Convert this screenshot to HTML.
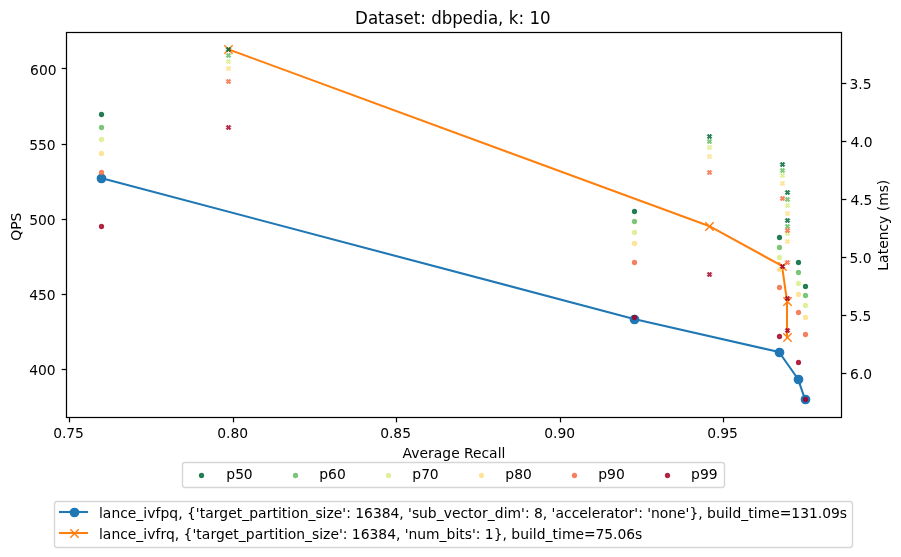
<!DOCTYPE html>
<html lang="en"><head><meta charset="utf-8"><title>Dataset: dbpedia, k: 10</title>
<style>html,body{margin:0;padding:0;background:#fff}body{width:901px;height:557px;overflow:hidden}svg text{white-space:pre}</style>
</head><body>
<svg width="901" height="557" viewBox="0 0 901 557" style="display:block">
<rect x="0" y="0" width="901" height="557" fill="#ffffff"/>
<g stroke="#000" stroke-width="1.220" fill="none">
<path d="M69.5 417.5V422.36"/>
<path d="M233.5 417.5V422.36"/>
<path d="M396.5 417.5V422.36"/>
<path d="M560.5 417.5V422.36"/>
<path d="M723.5 417.5V422.36"/>
<path d="M66.5 68.5H61.64"/>
<path d="M66.5 144.5H61.64"/>
<path d="M66.5 219.5H61.64"/>
<path d="M66.5 294.5H61.64"/>
<path d="M66.5 369.5H61.64"/>
<path d="M841.5 83.5H846.36"/>
<path d="M841.5 141.5H846.36"/>
<path d="M841.5 199.5H846.36"/>
<path d="M841.5 257.5H846.36"/>
<path d="M841.5 315.5H846.36"/>
<path d="M841.5 373.5H846.36"/>
</g>
<path d="M101.00 178.00 L634.00 319.00 L779.00 352.00 L798.00 379.00 L805.00 399.30" fill="none" stroke="#1f77b4" stroke-width="2.083" stroke-linejoin="round" stroke-linecap="square"/>
<circle cx="101.50" cy="178.50" r="4.167" fill="#1f77b4" stroke="#1f77b4" stroke-width="1.389"/>
<circle cx="634.50" cy="319.50" r="4.167" fill="#1f77b4" stroke="#1f77b4" stroke-width="1.389"/>
<circle cx="779.50" cy="352.50" r="4.167" fill="#1f77b4" stroke="#1f77b4" stroke-width="1.389"/>
<circle cx="798.50" cy="379.50" r="4.167" fill="#1f77b4" stroke="#1f77b4" stroke-width="1.389"/>
<circle cx="805.50" cy="399.50" r="4.167" fill="#1f77b4" stroke="#1f77b4" stroke-width="1.389"/>
<path d="M228.00 49.20 L709.00 225.90 L782.00 265.90 L787.00 300.90 L787.00 336.90" fill="none" stroke="#ff7f0e" stroke-width="2.083" stroke-linejoin="round" stroke-linecap="square"/>
<path d="M224.33 45.33L232.67 53.67M224.33 53.67L232.67 45.33" fill="none" stroke="#ff7f0e" stroke-width="1.389"/>
<path d="M705.33 222.33L713.67 230.67M705.33 230.67L713.67 222.33" fill="none" stroke="#ff7f0e" stroke-width="1.389"/>
<path d="M778.33 262.33L786.67 270.67M778.33 270.67L786.67 262.33" fill="none" stroke="#ff7f0e" stroke-width="1.389"/>
<path d="M783.33 297.33L791.67 305.67M783.33 305.67L791.67 297.33" fill="none" stroke="#ff7f0e" stroke-width="1.389"/>
<path d="M783.33 333.33L791.67 341.67M783.33 341.67L791.67 333.33" fill="none" stroke="#ff7f0e" stroke-width="1.389"/>
<rect x="66.5" y="32.5" width="775.0" height="385.0" fill="none" stroke="#000" stroke-width="1.220"/>
<circle cx="101.50" cy="114.50" r="1.964" fill="#006837" stroke="#006837" stroke-width="1.389" fill-opacity="0.8" stroke-opacity="0.8"/>
<circle cx="634.50" cy="211.50" r="1.964" fill="#006837" stroke="#006837" stroke-width="1.389" fill-opacity="0.8" stroke-opacity="0.8"/>
<circle cx="779.50" cy="237.50" r="1.964" fill="#006837" stroke="#006837" stroke-width="1.389" fill-opacity="0.8" stroke-opacity="0.8"/>
<circle cx="798.50" cy="262.50" r="1.964" fill="#006837" stroke="#006837" stroke-width="1.389" fill-opacity="0.8" stroke-opacity="0.8"/>
<circle cx="805.50" cy="286.50" r="1.964" fill="#006837" stroke="#006837" stroke-width="1.389" fill-opacity="0.8" stroke-opacity="0.8"/>
<path d="M227.35 47.20 L228.50 48.35 L229.65 47.20 L230.80 48.35 L229.65 49.50 L230.80 50.65 L229.65 51.80 L228.50 50.65 L227.35 51.80 L226.20 50.65 L227.35 49.50 L226.20 48.35Z" fill="#006837" stroke="#006837" stroke-width="0.9" stroke-linejoin="miter" fill-opacity="0.8" stroke-opacity="0.8"/>
<path d="M708.35 134.20 L709.50 135.35 L710.65 134.20 L711.80 135.35 L710.65 136.50 L711.80 137.65 L710.65 138.80 L709.50 137.65 L708.35 138.80 L707.20 137.65 L708.35 136.50 L707.20 135.35Z" fill="#006837" stroke="#006837" stroke-width="0.9" stroke-linejoin="miter" fill-opacity="0.8" stroke-opacity="0.8"/>
<path d="M781.35 162.20 L782.50 163.35 L783.65 162.20 L784.80 163.35 L783.65 164.50 L784.80 165.65 L783.65 166.80 L782.50 165.65 L781.35 166.80 L780.20 165.65 L781.35 164.50 L780.20 163.35Z" fill="#006837" stroke="#006837" stroke-width="0.9" stroke-linejoin="miter" fill-opacity="0.8" stroke-opacity="0.8"/>
<path d="M786.35 190.20 L787.50 191.35 L788.65 190.20 L789.80 191.35 L788.65 192.50 L789.80 193.65 L788.65 194.80 L787.50 193.65 L786.35 194.80 L785.20 193.65 L786.35 192.50 L785.20 191.35Z" fill="#006837" stroke="#006837" stroke-width="0.9" stroke-linejoin="miter" fill-opacity="0.8" stroke-opacity="0.8"/>
<path d="M786.35 218.20 L787.50 219.35 L788.65 218.20 L789.80 219.35 L788.65 220.50 L789.80 221.65 L788.65 222.80 L787.50 221.65 L786.35 222.80 L785.20 221.65 L786.35 220.50 L785.20 219.35Z" fill="#006837" stroke="#006837" stroke-width="0.9" stroke-linejoin="miter" fill-opacity="0.8" stroke-opacity="0.8"/>
<circle cx="101.50" cy="127.50" r="1.964" fill="#66bd63" stroke="#66bd63" stroke-width="1.389" fill-opacity="0.8" stroke-opacity="0.8"/>
<circle cx="634.50" cy="221.50" r="1.964" fill="#66bd63" stroke="#66bd63" stroke-width="1.389" fill-opacity="0.8" stroke-opacity="0.8"/>
<circle cx="779.50" cy="247.50" r="1.964" fill="#66bd63" stroke="#66bd63" stroke-width="1.389" fill-opacity="0.8" stroke-opacity="0.8"/>
<circle cx="798.50" cy="272.50" r="1.964" fill="#66bd63" stroke="#66bd63" stroke-width="1.389" fill-opacity="0.8" stroke-opacity="0.8"/>
<circle cx="805.50" cy="295.50" r="1.964" fill="#66bd63" stroke="#66bd63" stroke-width="1.389" fill-opacity="0.8" stroke-opacity="0.8"/>
<path d="M227.35 53.20 L228.50 54.35 L229.65 53.20 L230.80 54.35 L229.65 55.50 L230.80 56.65 L229.65 57.80 L228.50 56.65 L227.35 57.80 L226.20 56.65 L227.35 55.50 L226.20 54.35Z" fill="#66bd63" stroke="#66bd63" stroke-width="0.9" stroke-linejoin="miter" fill-opacity="0.8" stroke-opacity="0.8"/>
<path d="M708.35 139.20 L709.50 140.35 L710.65 139.20 L711.80 140.35 L710.65 141.50 L711.80 142.65 L710.65 143.80 L709.50 142.65 L708.35 143.80 L707.20 142.65 L708.35 141.50 L707.20 140.35Z" fill="#66bd63" stroke="#66bd63" stroke-width="0.9" stroke-linejoin="miter" fill-opacity="0.8" stroke-opacity="0.8"/>
<path d="M781.35 168.20 L782.50 169.35 L783.65 168.20 L784.80 169.35 L783.65 170.50 L784.80 171.65 L783.65 172.80 L782.50 171.65 L781.35 172.80 L780.20 171.65 L781.35 170.50 L780.20 169.35Z" fill="#66bd63" stroke="#66bd63" stroke-width="0.9" stroke-linejoin="miter" fill-opacity="0.8" stroke-opacity="0.8"/>
<path d="M786.35 197.20 L787.50 198.35 L788.65 197.20 L789.80 198.35 L788.65 199.50 L789.80 200.65 L788.65 201.80 L787.50 200.65 L786.35 201.80 L785.20 200.65 L786.35 199.50 L785.20 198.35Z" fill="#66bd63" stroke="#66bd63" stroke-width="0.9" stroke-linejoin="miter" fill-opacity="0.8" stroke-opacity="0.8"/>
<path d="M786.35 224.20 L787.50 225.35 L788.65 224.20 L789.80 225.35 L788.65 226.50 L789.80 227.65 L788.65 228.80 L787.50 227.65 L786.35 228.80 L785.20 227.65 L786.35 226.50 L785.20 225.35Z" fill="#66bd63" stroke="#66bd63" stroke-width="0.9" stroke-linejoin="miter" fill-opacity="0.8" stroke-opacity="0.8"/>
<circle cx="101.50" cy="139.50" r="1.964" fill="#d9ef8b" stroke="#d9ef8b" stroke-width="1.389" fill-opacity="0.8" stroke-opacity="0.8"/>
<circle cx="634.50" cy="232.50" r="1.964" fill="#d9ef8b" stroke="#d9ef8b" stroke-width="1.389" fill-opacity="0.8" stroke-opacity="0.8"/>
<circle cx="779.50" cy="257.50" r="1.964" fill="#d9ef8b" stroke="#d9ef8b" stroke-width="1.389" fill-opacity="0.8" stroke-opacity="0.8"/>
<circle cx="798.50" cy="283.50" r="1.964" fill="#d9ef8b" stroke="#d9ef8b" stroke-width="1.389" fill-opacity="0.8" stroke-opacity="0.8"/>
<circle cx="805.50" cy="305.50" r="1.964" fill="#d9ef8b" stroke="#d9ef8b" stroke-width="1.389" fill-opacity="0.8" stroke-opacity="0.8"/>
<path d="M227.35 59.20 L228.50 60.35 L229.65 59.20 L230.80 60.35 L229.65 61.50 L230.80 62.65 L229.65 63.80 L228.50 62.65 L227.35 63.80 L226.20 62.65 L227.35 61.50 L226.20 60.35Z" fill="#d9ef8b" stroke="#d9ef8b" stroke-width="0.9" stroke-linejoin="miter" fill-opacity="0.8" stroke-opacity="0.8"/>
<path d="M708.35 145.20 L709.50 146.35 L710.65 145.20 L711.80 146.35 L710.65 147.50 L711.80 148.65 L710.65 149.80 L709.50 148.65 L708.35 149.80 L707.20 148.65 L708.35 147.50 L707.20 146.35Z" fill="#d9ef8b" stroke="#d9ef8b" stroke-width="0.9" stroke-linejoin="miter" fill-opacity="0.8" stroke-opacity="0.8"/>
<path d="M781.35 173.20 L782.50 174.35 L783.65 173.20 L784.80 174.35 L783.65 175.50 L784.80 176.65 L783.65 177.80 L782.50 176.65 L781.35 177.80 L780.20 176.65 L781.35 175.50 L780.20 174.35Z" fill="#d9ef8b" stroke="#d9ef8b" stroke-width="0.9" stroke-linejoin="miter" fill-opacity="0.8" stroke-opacity="0.8"/>
<path d="M786.35 203.20 L787.50 204.35 L788.65 203.20 L789.80 204.35 L788.65 205.50 L789.80 206.65 L788.65 207.80 L787.50 206.65 L786.35 207.80 L785.20 206.65 L786.35 205.50 L785.20 204.35Z" fill="#d9ef8b" stroke="#d9ef8b" stroke-width="0.9" stroke-linejoin="miter" fill-opacity="0.8" stroke-opacity="0.8"/>
<path d="M786.35 231.20 L787.50 232.35 L788.65 231.20 L789.80 232.35 L788.65 233.50 L789.80 234.65 L788.65 235.80 L787.50 234.65 L786.35 235.80 L785.20 234.65 L786.35 233.50 L785.20 232.35Z" fill="#d9ef8b" stroke="#d9ef8b" stroke-width="0.9" stroke-linejoin="miter" fill-opacity="0.8" stroke-opacity="0.8"/>
<circle cx="101.50" cy="153.50" r="1.964" fill="#fee08b" stroke="#fee08b" stroke-width="1.389" fill-opacity="0.8" stroke-opacity="0.8"/>
<circle cx="634.50" cy="243.50" r="1.964" fill="#fee08b" stroke="#fee08b" stroke-width="1.389" fill-opacity="0.8" stroke-opacity="0.8"/>
<circle cx="779.50" cy="269.50" r="1.964" fill="#fee08b" stroke="#fee08b" stroke-width="1.389" fill-opacity="0.8" stroke-opacity="0.8"/>
<circle cx="798.50" cy="294.50" r="1.964" fill="#fee08b" stroke="#fee08b" stroke-width="1.389" fill-opacity="0.8" stroke-opacity="0.8"/>
<circle cx="805.50" cy="317.50" r="1.964" fill="#fee08b" stroke="#fee08b" stroke-width="1.389" fill-opacity="0.8" stroke-opacity="0.8"/>
<path d="M227.35 66.20 L228.50 67.35 L229.65 66.20 L230.80 67.35 L229.65 68.50 L230.80 69.65 L229.65 70.80 L228.50 69.65 L227.35 70.80 L226.20 69.65 L227.35 68.50 L226.20 67.35Z" fill="#fee08b" stroke="#fee08b" stroke-width="0.9" stroke-linejoin="miter" fill-opacity="0.8" stroke-opacity="0.8"/>
<path d="M708.35 154.20 L709.50 155.35 L710.65 154.20 L711.80 155.35 L710.65 156.50 L711.80 157.65 L710.65 158.80 L709.50 157.65 L708.35 158.80 L707.20 157.65 L708.35 156.50 L707.20 155.35Z" fill="#fee08b" stroke="#fee08b" stroke-width="0.9" stroke-linejoin="miter" fill-opacity="0.8" stroke-opacity="0.8"/>
<path d="M781.35 181.20 L782.50 182.35 L783.65 181.20 L784.80 182.35 L783.65 183.50 L784.80 184.65 L783.65 185.80 L782.50 184.65 L781.35 185.80 L780.20 184.65 L781.35 183.50 L780.20 182.35Z" fill="#fee08b" stroke="#fee08b" stroke-width="0.9" stroke-linejoin="miter" fill-opacity="0.8" stroke-opacity="0.8"/>
<path d="M786.35 211.20 L787.50 212.35 L788.65 211.20 L789.80 212.35 L788.65 213.50 L789.80 214.65 L788.65 215.80 L787.50 214.65 L786.35 215.80 L785.20 214.65 L786.35 213.50 L785.20 212.35Z" fill="#fee08b" stroke="#fee08b" stroke-width="0.9" stroke-linejoin="miter" fill-opacity="0.8" stroke-opacity="0.8"/>
<path d="M786.35 239.20 L787.50 240.35 L788.65 239.20 L789.80 240.35 L788.65 241.50 L789.80 242.65 L788.65 243.80 L787.50 242.65 L786.35 243.80 L785.20 242.65 L786.35 241.50 L785.20 240.35Z" fill="#fee08b" stroke="#fee08b" stroke-width="0.9" stroke-linejoin="miter" fill-opacity="0.8" stroke-opacity="0.8"/>
<circle cx="101.50" cy="172.50" r="1.964" fill="#f46d43" stroke="#f46d43" stroke-width="1.389" fill-opacity="0.8" stroke-opacity="0.8"/>
<circle cx="634.50" cy="262.50" r="1.964" fill="#f46d43" stroke="#f46d43" stroke-width="1.389" fill-opacity="0.8" stroke-opacity="0.8"/>
<circle cx="779.50" cy="287.50" r="1.964" fill="#f46d43" stroke="#f46d43" stroke-width="1.389" fill-opacity="0.8" stroke-opacity="0.8"/>
<circle cx="798.50" cy="312.50" r="1.964" fill="#f46d43" stroke="#f46d43" stroke-width="1.389" fill-opacity="0.8" stroke-opacity="0.8"/>
<circle cx="805.50" cy="334.50" r="1.964" fill="#f46d43" stroke="#f46d43" stroke-width="1.389" fill-opacity="0.8" stroke-opacity="0.8"/>
<path d="M227.35 79.20 L228.50 80.35 L229.65 79.20 L230.80 80.35 L229.65 81.50 L230.80 82.65 L229.65 83.80 L228.50 82.65 L227.35 83.80 L226.20 82.65 L227.35 81.50 L226.20 80.35Z" fill="#f46d43" stroke="#f46d43" stroke-width="0.9" stroke-linejoin="miter" fill-opacity="0.8" stroke-opacity="0.8"/>
<path d="M708.35 170.20 L709.50 171.35 L710.65 170.20 L711.80 171.35 L710.65 172.50 L711.80 173.65 L710.65 174.80 L709.50 173.65 L708.35 174.80 L707.20 173.65 L708.35 172.50 L707.20 171.35Z" fill="#f46d43" stroke="#f46d43" stroke-width="0.9" stroke-linejoin="miter" fill-opacity="0.8" stroke-opacity="0.8"/>
<path d="M781.35 196.20 L782.50 197.35 L783.65 196.20 L784.80 197.35 L783.65 198.50 L784.80 199.65 L783.65 200.80 L782.50 199.65 L781.35 200.80 L780.20 199.65 L781.35 198.50 L780.20 197.35Z" fill="#f46d43" stroke="#f46d43" stroke-width="0.9" stroke-linejoin="miter" fill-opacity="0.8" stroke-opacity="0.8"/>
<path d="M786.35 228.20 L787.50 229.35 L788.65 228.20 L789.80 229.35 L788.65 230.50 L789.80 231.65 L788.65 232.80 L787.50 231.65 L786.35 232.80 L785.20 231.65 L786.35 230.50 L785.20 229.35Z" fill="#f46d43" stroke="#f46d43" stroke-width="0.9" stroke-linejoin="miter" fill-opacity="0.8" stroke-opacity="0.8"/>
<path d="M786.35 260.20 L787.50 261.35 L788.65 260.20 L789.80 261.35 L788.65 262.50 L789.80 263.65 L788.65 264.80 L787.50 263.65 L786.35 264.80 L785.20 263.65 L786.35 262.50 L785.20 261.35Z" fill="#f46d43" stroke="#f46d43" stroke-width="0.9" stroke-linejoin="miter" fill-opacity="0.8" stroke-opacity="0.8"/>
<circle cx="101.50" cy="226.50" r="1.964" fill="#a50026" stroke="#a50026" stroke-width="1.389" fill-opacity="0.8" stroke-opacity="0.8"/>
<circle cx="634.50" cy="317.50" r="1.964" fill="#a50026" stroke="#a50026" stroke-width="1.389" fill-opacity="0.8" stroke-opacity="0.8"/>
<circle cx="779.50" cy="336.50" r="1.964" fill="#a50026" stroke="#a50026" stroke-width="1.389" fill-opacity="0.8" stroke-opacity="0.8"/>
<circle cx="798.50" cy="362.50" r="1.964" fill="#a50026" stroke="#a50026" stroke-width="1.389" fill-opacity="0.8" stroke-opacity="0.8"/>
<circle cx="805.50" cy="399.50" r="1.964" fill="#a50026" stroke="#a50026" stroke-width="1.389" fill-opacity="0.8" stroke-opacity="0.8"/>
<path d="M227.35 125.20 L228.50 126.35 L229.65 125.20 L230.80 126.35 L229.65 127.50 L230.80 128.65 L229.65 129.80 L228.50 128.65 L227.35 129.80 L226.20 128.65 L227.35 127.50 L226.20 126.35Z" fill="#a50026" stroke="#a50026" stroke-width="0.9" stroke-linejoin="miter" fill-opacity="0.8" stroke-opacity="0.8"/>
<path d="M708.35 272.20 L709.50 273.35 L710.65 272.20 L711.80 273.35 L710.65 274.50 L711.80 275.65 L710.65 276.80 L709.50 275.65 L708.35 276.80 L707.20 275.65 L708.35 274.50 L707.20 273.35Z" fill="#a50026" stroke="#a50026" stroke-width="0.9" stroke-linejoin="miter" fill-opacity="0.8" stroke-opacity="0.8"/>
<path d="M781.35 264.20 L782.50 265.35 L783.65 264.20 L784.80 265.35 L783.65 266.50 L784.80 267.65 L783.65 268.80 L782.50 267.65 L781.35 268.80 L780.20 267.65 L781.35 266.50 L780.20 265.35Z" fill="#a50026" stroke="#a50026" stroke-width="0.9" stroke-linejoin="miter" fill-opacity="0.8" stroke-opacity="0.8"/>
<path d="M786.35 296.20 L787.50 297.35 L788.65 296.20 L789.80 297.35 L788.65 298.50 L789.80 299.65 L788.65 300.80 L787.50 299.65 L786.35 300.80 L785.20 299.65 L786.35 298.50 L785.20 297.35Z" fill="#a50026" stroke="#a50026" stroke-width="0.9" stroke-linejoin="miter" fill-opacity="0.8" stroke-opacity="0.8"/>
<path d="M786.35 328.20 L787.50 329.35 L788.65 328.20 L789.80 329.35 L788.65 330.50 L789.80 331.65 L788.65 332.80 L787.50 331.65 L786.35 332.80 L785.20 331.65 L786.35 330.50 L785.20 329.35Z" fill="#a50026" stroke="#a50026" stroke-width="0.9" stroke-linejoin="miter" fill-opacity="0.8" stroke-opacity="0.8"/>
<rect x="182.5" y="462.5" width="542.0" height="25.0" rx="2.78" fill="#fff" fill-opacity="0.8" stroke="#ccc" stroke-opacity="0.8" stroke-width="1.389"/>
<rect x="54.5" y="501.5" width="798.0" height="46.0" rx="2.78" fill="#fff" fill-opacity="0.8" stroke="#ccc" stroke-opacity="0.8" stroke-width="1.389"/>
<circle cx="201.50" cy="475.50" r="1.964" fill="#006837" stroke="#006837" stroke-width="1.389" fill-opacity="0.8" stroke-opacity="0.8"/>
<circle cx="295.50" cy="475.50" r="1.964" fill="#66bd63" stroke="#66bd63" stroke-width="1.389" fill-opacity="0.8" stroke-opacity="0.8"/>
<circle cx="388.50" cy="475.50" r="1.964" fill="#d9ef8b" stroke="#d9ef8b" stroke-width="1.389" fill-opacity="0.8" stroke-opacity="0.8"/>
<circle cx="481.50" cy="475.50" r="1.964" fill="#fee08b" stroke="#fee08b" stroke-width="1.389" fill-opacity="0.8" stroke-opacity="0.8"/>
<circle cx="574.50" cy="475.50" r="1.964" fill="#f46d43" stroke="#f46d43" stroke-width="1.389" fill-opacity="0.8" stroke-opacity="0.8"/>
<circle cx="667.50" cy="475.50" r="1.964" fill="#a50026" stroke="#a50026" stroke-width="1.389" fill-opacity="0.8" stroke-opacity="0.8"/>
<path d="M60.00 512.0H87.00" stroke="#1f77b4" stroke-width="2.083" stroke-linecap="square" fill="none"/>
<path d="M60.00 533.0H87.00" stroke="#ff7f0e" stroke-width="2.083" stroke-linecap="square" fill="none"/>
<circle cx="74.5" cy="512.5" r="4.167" fill="#1f77b4" stroke="#1f77b4" stroke-width="1.389"/>
<path d="M70.33 529.33L78.67 537.67M70.33 537.67L78.67 529.33" fill="none" stroke="#ff7f0e" stroke-width="1.389"/>
<g font-family='"DejaVu Sans", "Liberation Sans", sans-serif' fill="#000">
<text transform="translate(68.49 437.97)" x="-15.31 -6.56 -2.19 6.56" y="0" font-size="13.889">0.75</text>
<text transform="translate(232.69 437.93)" x="-15.38 -6.62 -2.25 6.62" y="0" font-size="13.889">0.80</text>
<text transform="translate(395.56 437.94)" x="-15.38 -6.62 -2.25 6.62" y="0" font-size="13.889">0.85</text>
<text transform="translate(559.64 437.91)" x="-15.38 -6.62 -2.25 6.62" y="0" font-size="13.889">0.90</text>
<text transform="translate(722.50 437.92)" x="-15.38 -6.62 -2.25 6.62" y="0" font-size="13.889">0.95</text>
<text transform="translate(453.93 457.69)" x="-51.56 -42.81 -34.56 -26.06 -20.31 -11.69 -2.81 5.69 10.06 19.06 27.56 35.19 43.81 47.69" y="0" font-size="13.889">Average Recall</text>
<text transform="translate(56.43 75.00)" x="-26.38 -17.50 -8.75" y="0" font-size="13.889">600</text>
<text transform="translate(55.62 150.00)" x="-26.25 -17.50 -8.75" y="0" font-size="13.889">550</text>
<text transform="translate(55.54 225.00)" x="-26.25 -17.50 -8.75" y="0" font-size="13.889">500</text>
<text transform="translate(55.62 300.00)" x="-26.25 -17.50 -8.75" y="0" font-size="13.889">450</text>
<text transform="translate(55.54 375.00)" x="-26.25 -17.50 -8.75" y="0" font-size="13.889">400</text>
<text transform="translate(20.78 226.69) rotate(-90)" x="-14.00 -3.12 5.25" y="0" font-size="13.889">QPS</text>
<text transform="translate(452.81 24.16) scale(1 1.07)" x="-97.81 -84.94 -74.81 -68.31 -58.19 -49.44 -39.19 -32.69 -26.94 -21.69 -11.19 -0.69 9.81 20.06 30.56 35.19 45.31 50.69 55.94 65.69 71.44 76.69 87.31" y="0" font-size="16.667">Dataset: dbpedia, k: 10</text>
<text transform="translate(98.98 517.63)" x="0.00 3.88 12.50 21.25 28.88 37.38 44.38 48.25 56.50 61.50 70.38 79.25 83.62 88.00 96.88 100.75 106.25 114.88 120.38 129.25 137.75 143.25 150.25 159.12 167.75 173.50 179.00 182.88 188.38 192.25 200.75 209.50 216.50 223.62 227.50 234.88 243.38 247.25 251.88 256.25 265.12 274.00 282.75 291.62 300.38 304.75 309.12 313.00 320.12 328.88 337.75 344.75 353.00 361.50 369.12 374.62 383.12 388.88 395.88 404.75 408.62 422.12 426.00 430.62 435.00 443.88 448.25 452.62 456.50 465.12 472.75 480.38 488.88 492.75 501.25 507.00 515.62 521.12 529.62 535.38 539.25 543.88 548.25 552.12 560.88 569.38 578.12 586.62 590.50 599.38 603.75 608.12 617.00 625.75 629.62 633.50 642.38 649.38 654.88 658.75 672.25 680.75 692.38 701.25 710.00 718.88 723.25 732.00 740.88" y="0" font-size="13.889">lance_ivfpq, {'target_partition_size': 16384, 'sub_vector_dim': 8, 'accelerator': 'none'}, build_time=131.09s</text>
<text transform="translate(98.98 539.43)" x="0.00 3.88 12.50 21.25 28.88 37.38 44.38 48.25 56.50 61.50 67.00 75.88 80.25 84.62 93.50 97.38 102.88 111.50 117.00 125.88 134.38 139.88 146.88 155.75 164.38 170.12 175.62 179.50 185.00 188.88 197.38 206.12 213.12 220.25 224.12 231.50 240.00 243.88 248.50 252.88 261.75 270.62 279.38 288.25 297.00 301.38 305.75 309.62 318.38 327.12 340.62 347.62 356.50 360.38 365.88 373.00 376.88 381.50 385.88 394.75 403.62 408.00 412.38 421.25 430.00 433.88 437.75 446.62 453.62 459.12 463.00 476.50 485.00 496.62 505.38 514.12 518.50 527.25 536.12" y="0" font-size="13.889">lance_ivfrq, {'target_partition_size': 16384, 'num_bits': 1}, build_time=75.06s</text>
<text transform="translate(849.59 88.84)" x="0.00 8.75 13.12" y="0" font-size="13.889">3.5</text>
<text transform="translate(850.55 146.82)" x="0.00 8.75 13.12" y="0" font-size="13.889">4.0</text>
<text transform="translate(850.49 204.82)" x="0.00 8.75 13.12" y="0" font-size="13.889">4.5</text>
<text transform="translate(849.59 262.96)" x="0.00 8.75 13.12" y="0" font-size="13.889">5.0</text>
<text transform="translate(849.51 320.97)" x="0.00 8.75 13.12" y="0" font-size="13.889">5.5</text>
<text transform="translate(850.12 378.98)" x="0.00 8.88 13.25" y="0" font-size="13.889">6.0</text>
<text transform="translate(888.42 225.25) rotate(-90)" x="-45.44 -37.69 -29.06 -23.56 -15.06 -6.31 1.31 9.56 13.94 19.44 32.94 40.06" y="0" font-size="13.889">Latency (ms)</text>
<text transform="translate(226.25 479.22)" x="0.00 8.88 17.62" y="0" font-size="13.889">p50</text>
<text transform="translate(319.17 479.23)" x="0.00 8.88 17.75" y="0" font-size="13.889">p60</text>
<text transform="translate(412.26 479.23)" x="0.00 8.88 17.62" y="0" font-size="13.889">p70</text>
<text transform="translate(505.26 479.19)" x="0.00 8.88 17.75" y="0" font-size="13.889">p80</text>
<text transform="translate(598.20 479.17)" x="0.00 8.88 17.75" y="0" font-size="13.889">p90</text>
<text transform="translate(691.11 479.13)" x="0.00 8.88 17.75" y="0" font-size="13.889">p99</text>
</g>
</svg>
</body></html>
